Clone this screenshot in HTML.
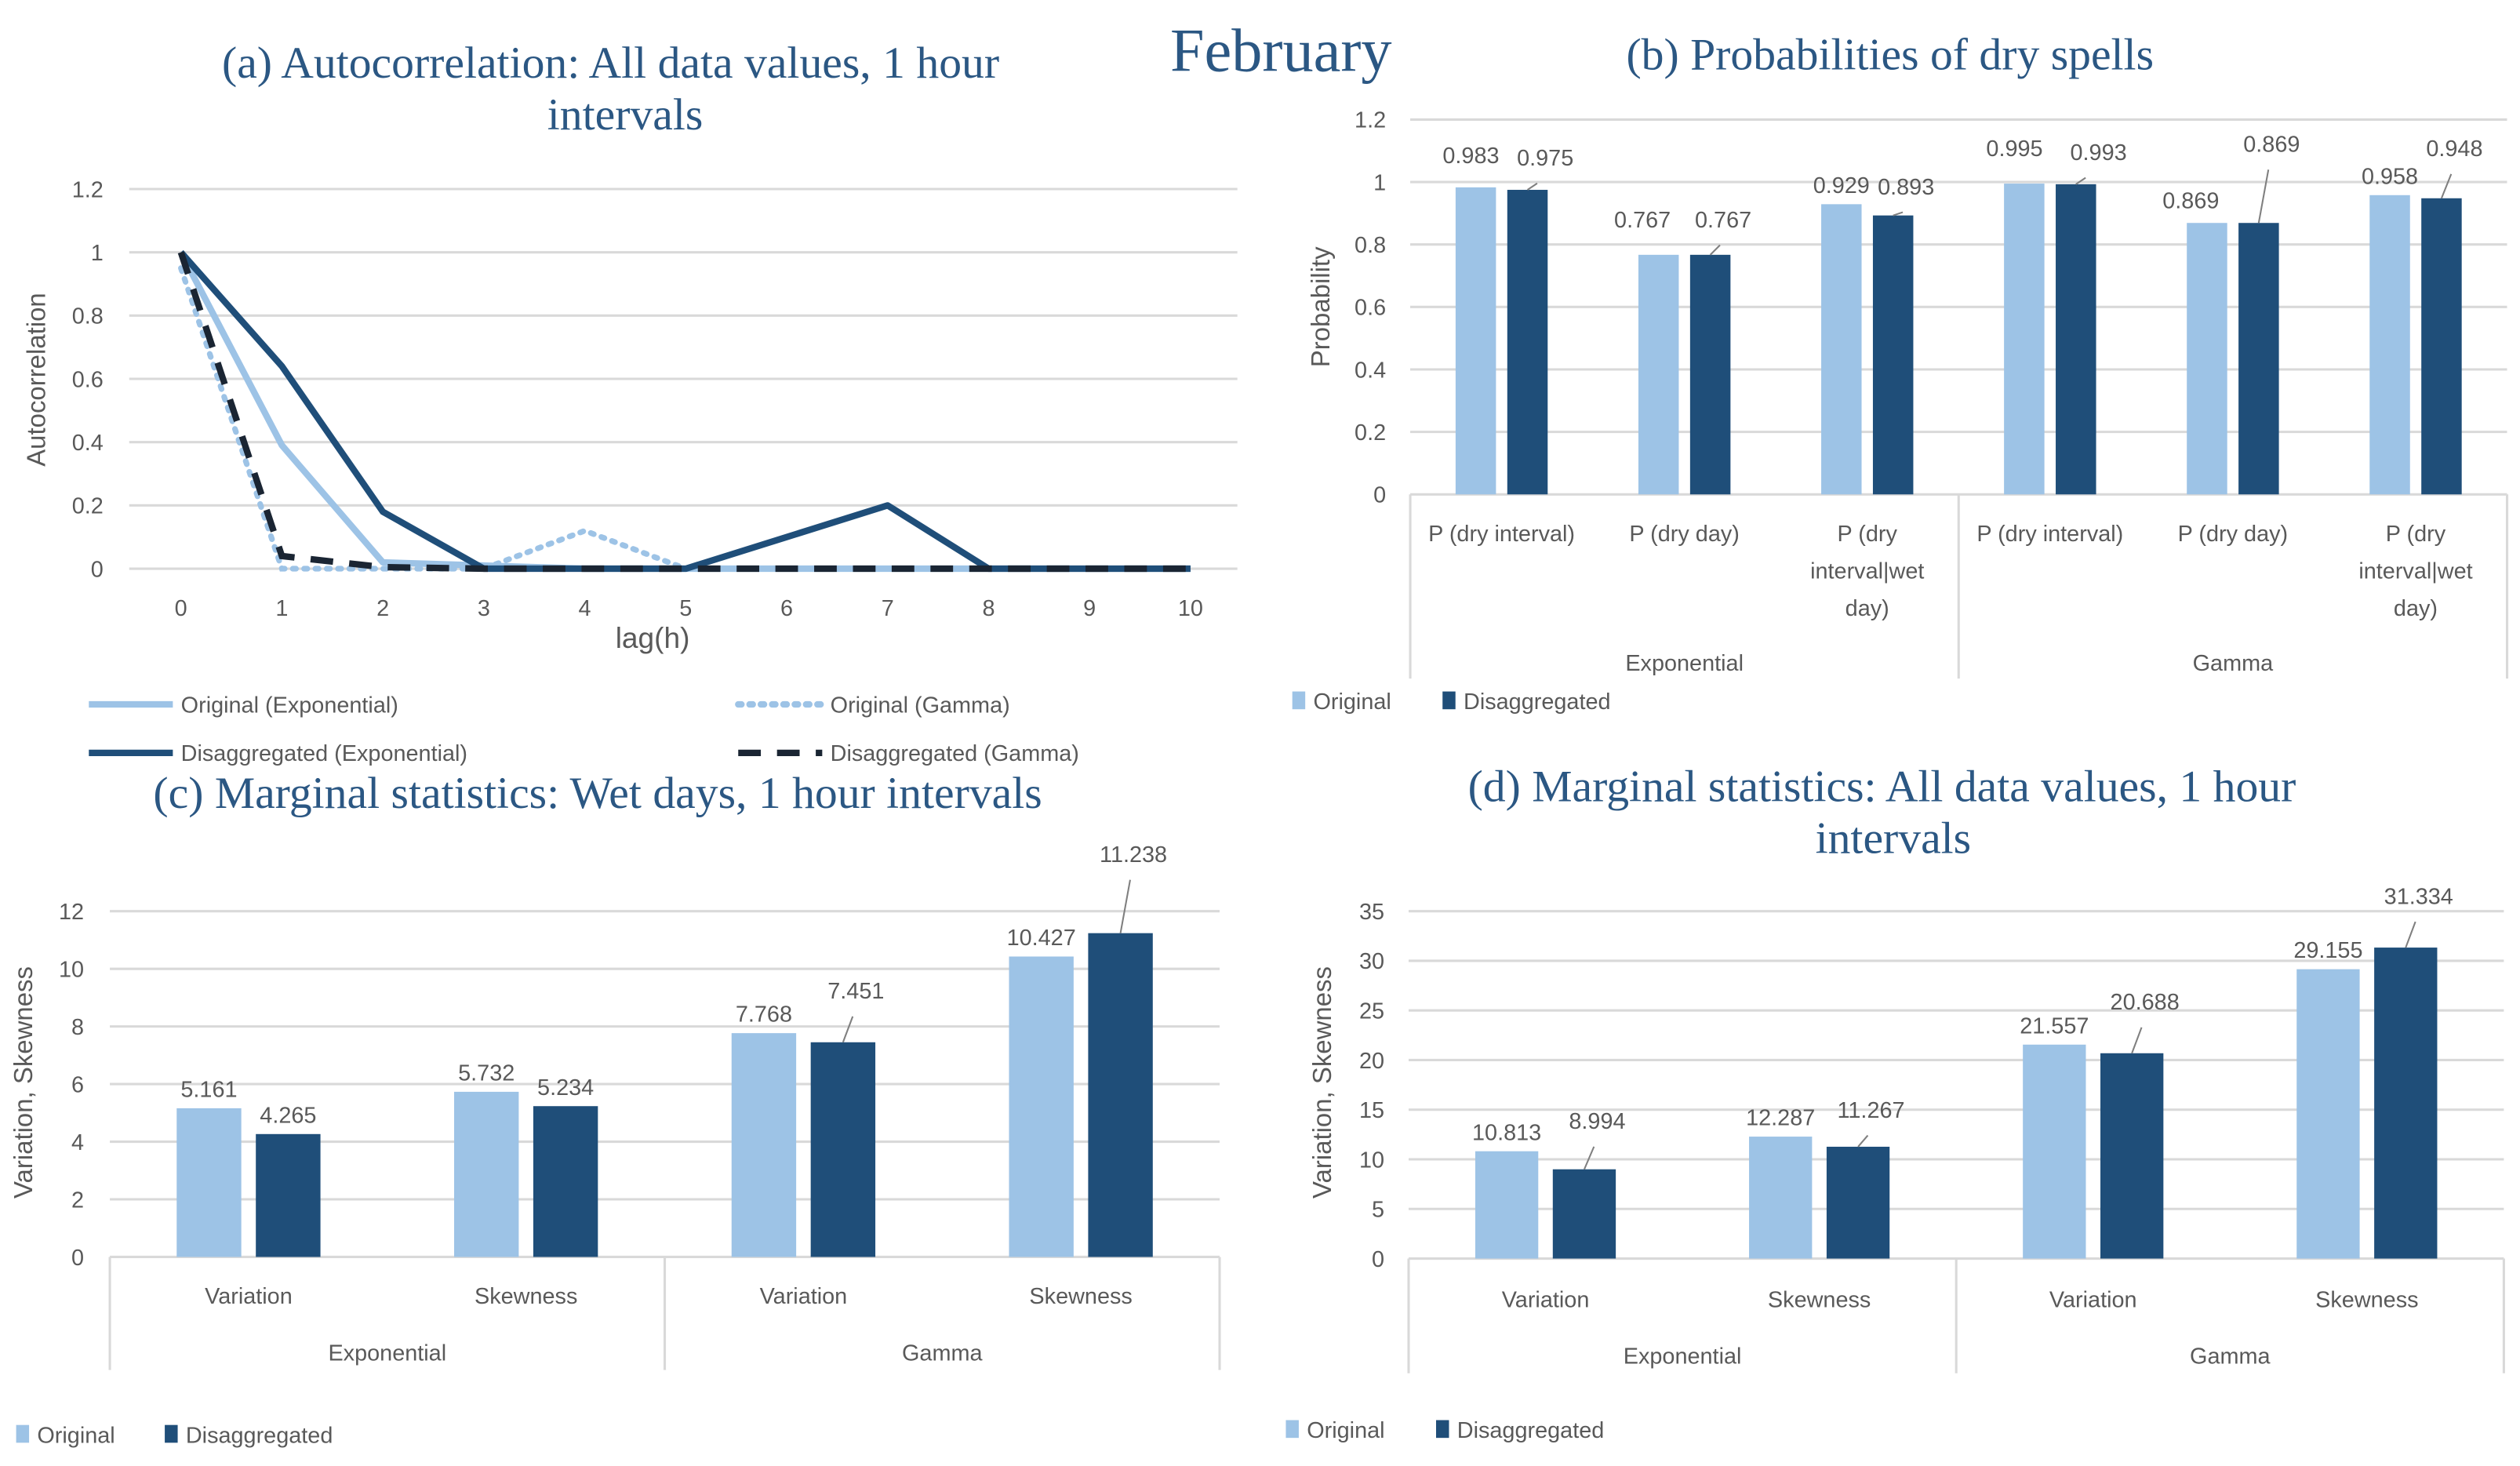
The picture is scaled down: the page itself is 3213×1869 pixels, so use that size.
<!DOCTYPE html>
<html><head><meta charset="utf-8"><style>
html,body{margin:0;padding:0;background:#fff;}
svg{display:block;}
.t{font-family:"Liberation Sans Narrow","Liberation Sans",sans-serif;fill:#595959;}
.ti{font-family:"Liberation Serif",serif;fill:#2b5783;}
</style></head><body>
<svg id="s" width="3213" height="1869" viewBox="0 0 1560 907.4" preserveAspectRatio="none" xmlns="http://www.w3.org/2000/svg">
<text class="ti" x="793" y="44" font-size="38" text-anchor="middle">February</text>
<text class="ti" x="378" y="48" font-size="28" text-anchor="middle">(a) Autocorrelation: All data values, 1 hour</text>
<text class="ti" x="387" y="80" font-size="28" text-anchor="middle">intervals</text>
<text class="ti" x="1170" y="43" font-size="28" text-anchor="middle">(b) Probabilities of dry spells</text>
<text class="ti" x="370" y="500" font-size="28" text-anchor="middle">(c) Marginal statistics: Wet days, 1 hour intervals</text>
<text class="ti" x="1165" y="496" font-size="28" text-anchor="middle">(d) Marginal statistics: All data values, 1 hour</text>
<text class="ti" x="1172" y="528" font-size="28" text-anchor="middle">intervals</text>
</svg>
<script>
// ---- Panel (a) data ----
const lags = [0,1,2,3,4,5,6,7,8,9,10];
const aTicks = [0,0.2,0.4,0.6,0.8,1,1.2];
const origExp = [1,0.39,0.02,0.01,0,0,0,0,0,0,0];
const origGam = [0.95,0,0,0,0.12,0,0,0,0,0,0];
const disExp = [1,0.64,0.18,0,0,0,0.1,0.2,0,0,0];
const disGam = [1,0.04,0.005,0,0,0,0,0,0,0,0];
// ---- Panel (b) data ----
const bCats = ["P (dry interval)","P (dry day)","P (dry/interval|wet/day)","P (dry interval)","P (dry day)","P (dry/interval|wet/day)"];
const bGroups = ["Exponential","Gamma"];
const bOrig = [0.983,0.767,0.929,0.995,0.869,0.958];
const bDis = [0.975,0.767,0.893,0.993,0.869,0.948];
const bTicks = [0,0.2,0.4,0.6,0.8,1,1.2];
// ---- Panel (c) data ----
const cCats = ["Variation","Skewness","Variation","Skewness"];
const cGroups = ["Exponential","Gamma"];
const cOrig = [5.161,5.732,7.768,10.427];
const cDis = [4.265,5.234,7.451,11.238];
const cTicks = [0,2,4,6,8,10,12];
// ---- Panel (d) data ----
const dCats = ["Variation","Skewness","Variation","Skewness"];
const dGroups = ["Exponential","Gamma"];
const dOrig = [10.813,12.287,21.557,29.155];
const dDis = [8.994,11.267,20.688,31.334];
const dTicks = [0,5,10,15,20,25,30,35];

const LIGHT="#9dc3e6", DARK="#1f4e79", GRID="#d9d9d9";
const FS=14;
const svg=document.getElementById('s');
const NS="http://www.w3.org/2000/svg";
function mk(tag,attrs,txt){const e=document.createElementNS(NS,tag);for(const k in attrs)e.setAttribute(k,attrs[k]);if(txt!==undefined)e.textContent=txt;svg.appendChild(e);return e;}

// ===== Panel (a) =====
const ax={x0:112,x1:737,y0:352,y1:117,min:0,max:1.2,l:80,r:766};
const axX=v=>ax.x0+(v-lags[0])/(lags[lags.length-1]-lags[0])*(ax.x1-ax.x0);
const axY=v=>ax.y0-(v-ax.min)/(ax.max-ax.min)*(ax.y0-ax.y1);
aTicks.forEach(t=>{
  let g=mk('line',{x1:ax.l,x2:ax.r,y1:axY(t),y2:axY(t),stroke:GRID,'stroke-width':1.5});
  
  
  let tx=mk('text',{class:'t',x:64,y:axY(t)+5,'font-size':FS,'text-anchor':'end'},String(t));
  
  
});
lags.forEach(l=>{
  let tx=mk('text',{class:'t',x:axX(l),y:381,'font-size':FS,'text-anchor':'middle'},String(l));
  
  
});
let at=mk('text',{class:'t',x:404,y:401,'font-size':18,'text-anchor':'middle','font-family':'Liberation Serif,serif'},'lag(h)');


let ayt=mk('text',{class:'t',x:0,y:0,'font-size':16,'text-anchor':'middle','font-family':'Liberation Sans,sans-serif',transform:'translate(28,235) rotate(-90)'},'Autocorrelation');


function pts(arr){return arr.map((v,i)=>axX(lags[i])+','+axY(v)).join(' ');}
let s1=mk('polyline',{points:pts(origExp),fill:'none',stroke:LIGHT,'stroke-width':4,'stroke-linejoin':'round'});


let s2=mk('polyline',{points:pts(origGam),fill:'none',stroke:LIGHT,'stroke-width':3.5,'stroke-dasharray':'2 5','stroke-linecap':'round'});


let s3=mk('polyline',{points:pts(disExp),fill:'none',stroke:DARK,'stroke-width':4,'stroke-linejoin':'round'});


let s4=mk('polyline',{points:pts(disGam),fill:'none',stroke:'#1a2533','stroke-width':4,'stroke-dasharray':'14 10'});


// legend a
[[55,436,LIGHT,'','Original (Exponential)','legend-original-exponential'],
 [457,436,LIGHT,'2 5','Original (Gamma)','legend-original-gamma'],
 [55,466,DARK,'','Disaggregated (Exponential)','legend-disaggregated-exponential'],
 [457,466,'#1a2533','14 10','Disaggregated (Gamma)','legend-disaggregated-gamma']].forEach(L=>{
  let ln=mk('line',{x1:L[0],x2:L[0]+52,y1:L[1],y2:L[1],stroke:L[2],'stroke-width':4,'stroke-dasharray':L[3]||'none','stroke-linecap':L[3]==='2 5'?'round':'butt'});
  
  
  let tx=mk('text',{class:'t',x:L[0]+57,y:L[1]+5,'font-size':FS},L[4]);
  
  
});

// ===== generic grouped bar panel =====
function barPanel(p){
  const n=p.cats.length, cw=(p.r-p.l)/n;
  const Y=v=>p.y0-v/p.max*(p.y0-p.y1);
  const X=i=>p.l+cw*(i+0.5);
  p.ticks.forEach(t=>{
    let g=mk('line',{x1:p.l,x2:p.r,y1:Y(t),y2:Y(t),stroke:GRID,'stroke-width':1.5});
    
    
    let tx=mk('text',{class:'t',x:p.tickX,y:Y(t)+5,'font-size':FS,'text-anchor':'end'},String(t));
    
    
  });
  p.orig.forEach((v,i)=>{
    const bx=X(i)-p.bw-p.gap/2;
    let b=mk('rect',{x:bx,y:Y(v),width:p.bw,height:Y(0)-Y(v),fill:LIGHT});
    
    
    let tx=mk('text',{class:'t',x:bx+p.bw/2+(p.oDx?p.oDx[i]:0),y:Y(v)-7+(p.oDy?p.oDy[i]:0),'font-size':FS,'text-anchor':'middle'},String(v));
    
    
  });
  p.dis.forEach((v,i)=>{
    const bx=X(i)+p.gap/2;
    let b=mk('rect',{x:bx,y:Y(v),width:p.bw,height:Y(0)-Y(v),fill:DARK});
    
    
    const lift=p.dDy?p.dDy[i]:0;
    const dx=(p.dDx?p.dDx[i]:0);
    if(lift<0){
      let ld=mk('line',{x1:bx+p.bw/2,y1:Y(v),x2:bx+p.bw/2+6,y2:Y(v)+lift+4,stroke:'#7f7f7f','stroke-width':1});
      
      
    }
    let tx=mk('text',{class:'t',x:bx+p.bw/2+(lift<0?8:0)+dx,y:Y(v)-7+lift,'font-size':FS,'text-anchor':'middle'},String(v));
    
    
  });
  [0,n/2,n].forEach(k=>{
    let ln=mk('line',{x1:p.l+cw*k,x2:p.l+cw*k,y1:Y(0),y2:p.axB,stroke:GRID,'stroke-width':1.5});
    
    
  });
  p.cats.forEach((c,i)=>{
    const lines=c.split('/');
    lines.forEach((s,j)=>{
      let tx=mk('text',{class:'t',x:X(i),y:p.catY+j*23,'font-size':FS,'text-anchor':'middle'},s);
      
      
    });
  });
  p.groups.forEach((g,k)=>{
    let tx=mk('text',{class:'t',x:p.l+cw*(k*n/2+n/4),y:p.grpY,'font-size':FS,'text-anchor':'middle'},g);
    
    
  });
  let yt=mk('text',{class:'t',x:0,y:0,'font-size':16,'text-anchor':'middle','font-family':'Liberation Sans,sans-serif',transform:'translate('+p.ytX+','+p.ytY+') rotate(-90)'},p.ytitle);
  
  
  let q1=mk('rect',{x:p.legX,y:p.legY-9,width:8,height:11,fill:LIGHT});
  
  
  let l1=mk('text',{class:'t',x:p.legX+13,y:p.legY+2,'font-size':FS},'Original');
  
  
  let q2=mk('rect',{x:p.legX2,y:p.legY-9,width:8,height:11,fill:DARK});
  
  
  let l2=mk('text',{class:'t',x:p.legX2+13,y:p.legY+2,'font-size':FS},'Disaggregated');
  
  
}
barPanel({id:'b',cats:bCats,groups:bGroups,orig:bOrig,dis:bDis,ticks:bTicks,max:1.2,
  l:873,r:1552,y0:306,y1:74,bw:25,gap:7,tickX:858,axB:420,catY:335,grpY:415,ytitle:'Probability',ytX:823,ytY:190,
  legX:800,legX2:893,legY:437,oDx:[-3,-10,0,-6,-10,0],oDy:[-8,-10,0,-10,-2,0],dDx:[3,0,0,6,0,0],dDy:[-8,-10,-6,-8,-37,-19]});
barPanel({id:'c',cats:cCats,groups:cGroups,orig:cOrig,dis:cDis,ticks:cTicks,max:12,
  l:68,r:755,y0:778,y1:564,bw:40,gap:9,tickX:52,axB:848,catY:807,grpY:842,ytitle:'Variation, Skewness',ytX:20,ytY:670,
  legX:10,legX2:102,legY:891,dDy:[0,0,-20,-37]});
barPanel({id:'d',cats:dCats,groups:dGroups,orig:dOrig,dis:dDis,ticks:dTicks,max:35,
  l:872,r:1550,y0:779,y1:564,bw:39,gap:9,tickX:857,axB:850,catY:809,grpY:844,ytitle:'Variation, Skewness',ytX:824,ytY:670,
  legX:796,legX2:889,legY:888,dDy:[-18,-11,-20,-20]});
</script>
</body></html>
